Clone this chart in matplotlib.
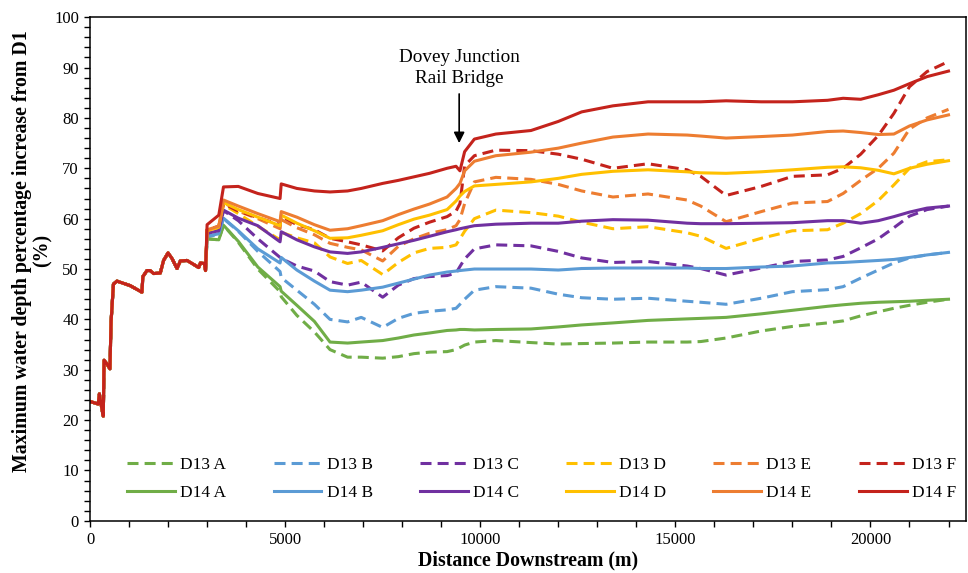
import matplotlib.pyplot as plt
from matplotlib.ticker import MultipleLocator

plt.rcParams['font.family'] = ['Liberation Serif', 'DejaVu Serif']

# upstream reach (0 - ~3 km) where all runs overlap
x_common = [0, 210, 240, 290, 340, 360, 430, 510, 540, 600, 690, 1030, 1330, 1355,
            1460, 1540, 1630, 1800, 1885, 2000, 2100, 2230, 2315, 2485, 2615, 2785,
            2830, 2930, 2960]
y_common = [23.7, 23.2, 25.2, 22.8, 20.8, 31.9, 31.2, 30.2, 39.6, 47.0, 47.6, 46.7,
            45.4, 48.5, 49.7, 49.7, 49.1, 49.2, 51.7, 53.2, 52.1, 50.1, 51.6, 51.7,
            51.1, 50.3, 51.2, 51.1, 49.7]

# downstream distances (m)
dist = [3000, 3300, 3420, 3800, 4300, 4870, 4900, 5300, 5750, 6150,
        6600, 6950, 7500, 7900, 8300, 8700, 9150, 9380, 9480, 9600,
        9850, 10400, 11300, 12000, 12600, 13400, 14300, 15300, 15650, 16300,
        17200, 18000, 18900, 19300, 19750, 20200, 20600, 21000, 21450, 22000]

d13_a = [56.0, 55.8, 58.7, 55.3, 50.0, 45.5, 44.5, 40.8, 37.5, 34.0,
         32.5, 32.5, 32.3, 32.6, 33.2, 33.5, 33.6, 34.0, 34.4, 34.9,
         35.5, 35.8, 35.4, 35.1, 35.2, 35.3, 35.5, 35.5, 35.6, 36.3,
         37.7, 38.6, 39.3, 39.7, 40.7, 41.5, 42.2, 42.8, 43.4, 44.0]
d13_b = [56.4, 56.9, 60.0, 57.5, 53.5, 49.5, 48.3, 45.8, 43.0, 40.0,
         39.5, 40.4, 38.4, 40.2, 41.2, 41.6, 41.9, 42.2, 43.0, 44.0,
         45.8, 46.5, 46.2, 45.0, 44.3, 44.0, 44.2, 43.6, 43.4, 43.0,
         44.2, 45.5, 45.9, 46.5, 48.2, 49.8, 51.2, 52.2, 52.8, 53.3]
d13_c = [57.0, 57.5, 61.6, 59.6, 56.0, 52.3, 52.1, 50.6, 49.6, 47.5,
         46.8, 47.4, 44.4, 46.8, 48.1, 48.5, 48.7, 49.2, 50.5, 52.0,
         54.0, 54.8, 54.6, 53.5, 52.2, 51.3, 51.5, 50.6, 50.1, 48.8,
         50.2, 51.5, 51.8, 52.5, 54.2, 56.0, 58.2, 60.5, 61.8, 62.5]
d13_d = [57.4, 58.0, 62.8, 61.0, 58.5, 55.8, 57.3, 56.2, 55.2, 52.4,
         51.1, 51.7, 48.9, 51.3, 53.2, 54.1, 54.3, 54.8, 56.0, 57.5,
         60.0, 61.7, 61.2, 60.5, 59.3, 58.0, 58.4, 57.2, 56.5, 54.1,
         56.1, 57.6, 57.8, 59.1, 61.0, 63.6, 66.7, 70.0, 71.3, 71.7]
d13_e = [57.8, 58.3, 63.2, 61.5, 60.0, 58.0, 59.8, 58.2, 56.8, 55.1,
         54.3, 53.8, 51.6, 54.5, 56.0, 57.1, 57.8, 58.6, 59.8, 63.0,
         67.3, 68.2, 67.8, 66.8, 65.5, 64.3, 64.9, 63.7, 62.5, 59.4,
         61.4, 63.1, 63.4, 65.0, 67.6, 70.0, 73.0, 77.8, 80.0, 81.7]
d13_f = [57.8, 58.5, 63.0, 61.5, 60.2, 58.8, 60.5, 58.8, 57.8, 56.1,
         55.4, 54.8, 53.6, 56.2, 58.1, 59.3, 60.4, 61.5, 63.0, 70.5,
         72.5, 73.6, 73.5, 72.8, 71.8, 70.0, 70.9, 69.7, 68.4, 64.6,
         66.4, 68.4, 68.7, 70.0, 72.8, 76.5, 80.9, 86.2, 89.2, 91.2]

d14_a = [56.0, 55.8, 58.7, 55.5, 50.4, 46.5, 45.6, 42.8, 39.6, 35.5,
         35.3, 35.5, 35.8, 36.3, 36.9, 37.3, 37.8, 37.9, 38.0, 38.0,
         37.9, 38.0, 38.1, 38.5, 38.9, 39.3, 39.8, 40.1, 40.2, 40.4,
         41.1, 41.8, 42.6, 42.9, 43.2, 43.4, 43.5, 43.6, 43.8, 44.0]
d14_b = [56.5, 57.0, 60.1, 57.6, 54.0, 51.2, 52.3, 49.8, 47.6, 45.8,
         45.5, 45.8, 46.4, 47.2, 48.0, 48.8, 49.4, 49.6, 49.7, 49.8,
         50.0, 50.0, 50.0, 49.8, 50.1, 50.2, 50.2, 50.2, 50.1, 50.1,
         50.4, 50.6, 51.2, 51.3, 51.5, 51.7, 51.9, 52.3, 52.8, 53.3]
d14_c = [57.1, 57.6, 61.7, 60.1, 58.6, 55.4, 57.4, 55.8, 54.4, 53.4,
         53.1, 53.4, 54.3, 55.0, 55.7, 56.5, 57.4, 57.8, 58.0, 58.2,
         58.6, 58.9, 59.1, 59.1, 59.5, 59.8, 59.7, 59.1, 59.0, 59.0,
         59.1, 59.2, 59.6, 59.6, 59.1, 59.6, 60.4, 61.3, 62.1, 62.5]
d14_d = [57.6, 58.3, 63.2, 61.8, 60.3, 58.6, 60.7, 59.1, 57.6, 56.1,
         56.2, 56.7, 57.6, 58.8, 59.9, 60.7, 61.8, 63.5, 64.5, 65.4,
         66.5, 66.8, 67.3, 68.0, 68.8, 69.4, 69.7, 69.3, 69.1, 69.0,
         69.3, 69.7, 70.2, 70.3, 70.1, 69.6, 68.9, 70.0, 70.8, 71.5]
d14_e = [57.8, 58.5, 63.7, 62.5, 61.0, 59.4, 61.4, 60.3, 58.8, 57.7,
         58.0, 58.6, 59.6, 60.8, 61.9, 62.9, 64.3, 66.0, 67.0, 69.5,
         71.4, 72.5, 73.2, 74.0, 75.0, 76.2, 76.8, 76.6, 76.4, 76.0,
         76.3, 76.6, 77.3, 77.4, 77.1, 76.7, 76.8, 78.4, 79.6, 80.6]
d14_f = [58.8, 60.7, 66.3, 66.4, 65.0, 64.0, 66.9, 66.0, 65.5, 65.3,
         65.5, 66.0, 67.0, 67.6, 68.3, 69.0, 70.0, 70.4, 69.5, 73.3,
         75.8, 76.8, 77.5, 79.3, 81.2, 82.4, 83.2, 83.2, 83.2, 83.4,
         83.2, 83.2, 83.5, 83.9, 83.7, 84.6, 85.5, 86.8, 88.2, 89.3]

scenarios = ['A', 'B', 'C', 'D', 'E', 'F']
colors = ['#70AD47', '#5B9BD5', '#7030A0', '#FFC000', '#ED7D31', '#C4231C']
d13 = [d13_a, d13_b, d13_c, d13_d, d13_e, d13_f]
d14 = [d14_a, d14_b, d14_c, d14_d, d14_e, d14_f]

fig, ax = plt.subplots(figsize=(9.68, 5.73), dpi=100)
fig.subplots_adjust(left=0.093, right=0.998, top=0.970, bottom=0.091)

lines13, lines14 = [], []
for s, c, vals in zip(scenarios, colors, d13):
    l, = ax.plot(x_common + dist, y_common + vals, color=c, lw=2.2,
                 linestyle=(0, (3.6, 2.0)), label='D13 ' + s)
    lines13.append(l)
for s, c, vals in zip(scenarios, colors, d14):
    l, = ax.plot(x_common + dist, y_common + vals, color=c, lw=2.2,
                 label='D14 ' + s)
    lines14.append(l)

# legend: dashed row on top, solid row below
handles = []
for a, b in zip(lines13, lines14):
    handles += [a, b]
ax.legend(handles=handles, ncol=6, loc='center', bbox_to_anchor=(0.5156, 0.083),
          frameon=False, fontsize=12.5, handlelength=2.75, handletextpad=0.3,
          columnspacing=2.72, labelspacing=0.72)

ax.annotate('Dovey Junction\nRail Bridge', xy=(9460, 75.0), xytext=(9460, 89.9),
            ha='center', va='center', fontsize=13.8, linespacing=1.3,
            arrowprops=dict(arrowstyle='-|>', color='black', lw=1.2,
                            mutation_scale=16, shrinkA=3, shrinkB=0))

ax.set_xlim(0, 22450)
ax.set_ylim(0, 100)
ax.xaxis.set_major_locator(MultipleLocator(5000))
ax.xaxis.set_minor_locator(MultipleLocator(1000))
ax.yaxis.set_major_locator(MultipleLocator(10))
ax.yaxis.set_minor_locator(MultipleLocator(2))
ax.tick_params(which='both', direction='out', length=4.5, width=1, labelsize=12)
for sp in ax.spines.values():
    sp.set_linewidth(1.1)

ax.set_xlabel('Distance Downstream (m)', fontsize=14.3, fontweight='bold', labelpad=2)
ax.set_ylabel('Maximum water depth percentage increase from D1\n(%)',
              fontsize=14.3, fontweight='bold', labelpad=1, linespacing=1.05, y=0.536)

plt.savefig('out.png', dpi=100)
